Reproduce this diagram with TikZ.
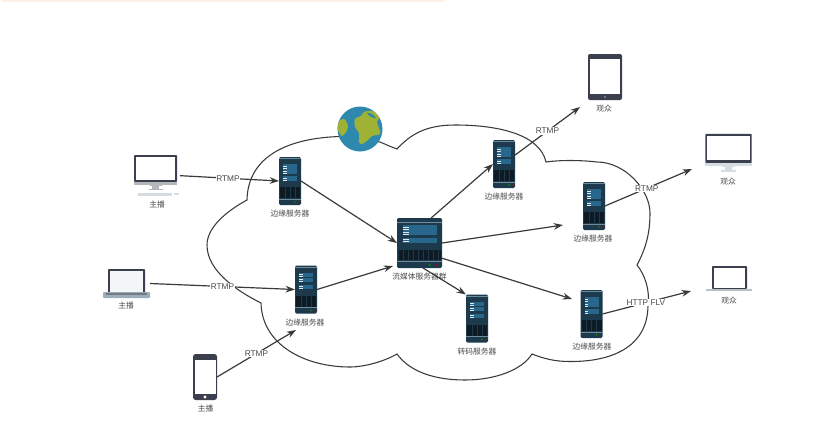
\documentclass[tikz,border=0pt]{standalone}
\usepackage{fontspec}
\setmainfont{Liberation Sans}
\newfontfamily\cjkfont{Noto Sans CJK SC}
\usetikzlibrary{arrows.meta}
\definecolor{cnline}{HTML}{3A3A3A}
\definecolor{cntext}{HTML}{4A4A4A}
\definecolor{cnrack}{HTML}{1C3A4C}
\definecolor{cnbar}{HTML}{2B6E96}
\definecolor{cngrille}{HTML}{0E1A24}
\definecolor{cnstrip}{HTML}{6E8C9C}
\definecolor{cnframe}{HTML}{3B3F4E}
\definecolor{cnpale}{HTML}{D5DCE2}
\definecolor{cnsea}{HTML}{2F88AD}
\definecolor{cnland}{HTML}{9FB236}
\definecolor{cnband}{HTML}{FDF0E6}
\tikzset{
  rackbox/.style={fill=cnrack, rounded corners=1pt, inner sep=0pt, outer sep=0pt},
  iconbox/.style={inner sep=0pt, outer sep=0pt},
  caplabel/.style={text=cntext, font=\cjkfont\fontsize{5.8pt}{7pt}\selectfont, inner sep=0pt},
  linklabel/.style={fill=white, text=cntext, font=\fontsize{6.2pt}{7pt}\selectfont, inner sep=0.6pt},
  linkarrow/.style={draw=cnline, line width=0.9pt, -{Stealth[length=7pt, width=5pt]}},
  cloudline/.style={draw=cnline, line width=0.8pt},
  server/.pic={
    \fill[cnstrip] (-11,-23) rectangle (11,-22.4);
    \fill[cnbar!85!cnrack] (-7,-17) rectangle (7,-12.5);
    \fill[cnbar!85!cnrack] (-7,-12) rectangle (7,-7.5);
    \fill[cnbar!85!cnrack] (-7,-5) rectangle (7,-0.5);
    \fill[white!85!cnbar] (-7,-15.5) rectangle (-3.5,-15);
    \fill[white!85!cnbar] (-7,-13.2) rectangle (-3.5,-12.7);
    \fill[white!85!cnbar] (-7,-10.5) rectangle (-3.5,-10);
    \fill[white!85!cnbar] (-7,-8.2) rectangle (-3.5,-7.7);
    \fill[white!85!cnbar] (-7,-3.5) rectangle (-3.5,-3);
    \fill[white!85!cnbar] (-7,-1.5) rectangle (-3.5,-1);
    \fill[cngrille] (-10,6) rectangle (10,17);
    \foreach \gx in {-5,0,5} \draw[cnrack, line width=0.4pt] (\gx,6) -- (\gx,17);
    \fill[cnstrip] (-11,17.8) rectangle (11,18.6);
    \fill[green!60!black] (5,20.7) circle (0.8);
    \fill[red!65!black] (8,20.7) circle (0.8);
  },
  bigserver/.pic={
    \fill[cnstrip] (-22.5,-21) rectangle (22.5,-20.4);
    \fill[cnbar!85!cnrack] (-17,-18) rectangle (17,-13.5);
    \fill[cnbar!85!cnrack] (-17,-13) rectangle (17,-8.5);
    \fill[cnbar!85!cnrack] (-17,-5.5) rectangle (17,-0.5);
    \fill[white!85!cnbar] (-17,-16.5) rectangle (-11,-16);
    \fill[white!85!cnbar] (-17,-14.2) rectangle (-11,-13.7);
    \fill[white!85!cnbar] (-17,-11.5) rectangle (-11,-11);
    \fill[white!85!cnbar] (-17,-9.2) rectangle (-11,-8.7);
    \fill[white!85!cnbar] (-17,-4) rectangle (-11,-3.5);
    \fill[white!85!cnbar] (-17,-2) rectangle (-11,-1.5);
    \fill[cngrille] (-21,7) rectangle (21,17);
    \foreach \gx in {-16,-11,-6,-1,4,9,14,19} \draw[cnrack, line width=0.4pt] (\gx,7) -- (\gx,17);
    \fill[cnstrip] (-22.5,18.2) rectangle (22.5,19);
    \fill[green!60!black] (10.5,22) circle (1);
    \fill[red!65!black] (17,22) circle (1);
  },
  monitor/.pic={
    \fill[cnframe, rounded corners=0.6pt] (-21.5,-13.5) rectangle (21.5,13.5);
    \fill[white] (-19.5,-11.5) rectangle (19.5,11);
    \fill[#1] (-21.5,13) rectangle (21.5,16);
    \fill[#1] (-6,16) rectangle (6,17);
    \fill[#1] (-3.5,17) rectangle (3.5,20);
    \fill[#1] (-7,20) rectangle (7,21.5);
  },
}
\begin{document}
\begin{tikzpicture}[x=0.75pt, y=-0.75pt]
  \useasboundingbox (0,0) rectangle (818,433);
  \fill[cnband] (2,0) rectangle (444,2);

  \draw[cloudline] (340,136.5) .. controls (290,138) and (248,155) .. (247,200)
    .. controls (225,212) and (207,228) .. (207,245)
    .. controls (207,270) and (235,290) .. (261,303)
    .. controls (262,345) and (305,367) .. (350,367)
    .. controls (365,367) and (385,361) .. (397,354)
    .. controls (410,372) and (435,380) .. (465,380)
    .. controls (495,380) and (522,370) .. (532,354)
    .. controls (550,361) and (560,361.5) .. (573,361.5)
    .. controls (615,361) and (648,345) .. (648,305)
    .. controls (650,290) and (645,275) .. (637,265)
    .. controls (645,250) and (650,235) .. (650,213)
    .. controls (650,190) and (625,162) .. (597,162)
    .. controls (580,160) and (560,160) .. (546,162)
    .. controls (540,135) and (500,125) .. (455,125)
    .. controls (425,125) and (410,135) .. (397,149)
    .. controls (391,147) and (385,144) .. (380,142) -- cycle;

  \node[circle, fill=cnsea, minimum size=33.75pt, inner sep=0pt] (globe) at (360,129) {};
  \begin{scope}
    \clip (360,129) circle (22.5);
    \fill[cnland] plot[smooth cycle] coordinates {(355,119) (361,116) (364,112) (372,111) (380,116) (377,122) (379,128) (380,134) (372,136) (368,140) (362,144) (359,142) (359,133) (355,127)};
    \fill[cnsea] plot[smooth cycle] coordinates {(367,113) (372,114) (376,118) (371,117)};
    \fill[cnland] plot[smooth cycle] coordinates {(337,123) (344,119) (348,126) (346,132) (342,136) (338,130)};
  \end{scope}

  \node[iconbox, minimum width=32.25pt, minimum height=30.75pt] (anchordesk) at (155.5,175.5) {};
  \pic at (155.5,168.5) {monitor=cnpale!60!gray};
  \fill[cnpale] (138,192.5) rectangle (172,195.5);
  \fill[cnpale] (174,193) rectangle (179,194.5);
  \node[caplabel] (anchordeskcap) at (157,205) {主播};

  \node[iconbox, minimum width=35.25pt, minimum height=21.75pt] (anchorlap) at (126.5,283.5) {};
  \fill[cnframe, rounded corners=0.6pt] (108,269) rectangle (145,293);
  \fill[white!94!cnbar] (110,271) rectangle (143,292);
  \fill[cnstrip!70!white, rounded corners=0.6pt] (103,292) rectangle (150,298);
  \fill[cnframe!70!white] (106,292.5) rectangle (147,294.5);
  \node[caplabel] (anchorlapcap) at (126,306) {主播};

  \node[iconbox, fill=cnframe, rounded corners=2pt, minimum width=18pt, minimum height=34.5pt] (anchorphone) at (205,377) {};
  \fill[white] (195,360) rectangle (216,394);
  \fill[white] (205,397) circle (1.6);
  \node[caplabel] (anchorphonecap) at (205.5,409) {主播};

  \node[iconbox, fill=cnframe, rounded corners=1.5pt, minimum width=25.5pt, minimum height=34.5pt] (viewertab) at (605,77) {};
  \fill[white] (590,59) rectangle (620,94);
  \fill[cnframe!70!white] (605,97) circle (1.4);
  \node[caplabel] (viewertabcap) at (604,109) {观众};

  \node[iconbox, minimum width=35.25pt, minimum height=30pt] (viewerdesk) at (728.5,154) {};
  \pic[scale=1.08] at (728.5,148.5) {monitor=cnpale};
  \node[caplabel] (viewerdeskcap) at (728,182) {观众};

  \node[iconbox, minimum width=34.5pt, minimum height=18.75pt] (viewerlap) at (729,278.5) {};
  \fill[cnframe, rounded corners=0.6pt] (712,266) rectangle (747,289);
  \fill[white] (714,268) rectangle (745,288);
  \fill[cnpale!70!gray] (706,289) rectangle (752,291);
  \node[caplabel] (viewerlapcap) at (729,301) {观众};

  \node[rackbox, minimum width=33.75pt, minimum height=37.5pt] (streamsrv) at (419.5,243) {};
  \pic at (419.5,243) {bigserver};
  \node[caplabel] (streamsrvcap) at (419.5,277) {流媒体服务器群};

  \node[rackbox, minimum width=16.5pt, minimum height=36pt] (edgea) at (290,181) {};
  \pic at (290,181) {server};
  \node[caplabel] (edgeacap) at (290,214) {边缘服务器};

  \node[rackbox, minimum width=16.5pt, minimum height=36pt] (edgeb) at (306,289.5) {};
  \pic at (306,289.5) {server};
  \node[caplabel] (edgebcap) at (305,323) {边缘服务器};

  \node[rackbox, minimum width=16.5pt, minimum height=36pt] (edgec) at (504,164) {};
  \pic at (504,164) {server};
  \node[caplabel] (edgeccap) at (504,197) {边缘服务器};

  \node[rackbox, minimum width=16.5pt, minimum height=36pt] (edged) at (594,206) {};
  \pic at (594,206) {server};
  \node[caplabel] (edgedcap) at (593,239) {边缘服务器};

  \node[rackbox, minimum width=16.5pt, minimum height=36pt] (edgee) at (591.5,314) {};
  \pic at (591.5,314) {server};
  \node[caplabel] (edgeecap) at (592,347) {边缘服务器};

  \node[rackbox, minimum width=16.5pt, minimum height=36pt] (transsrv) at (477,318.5) {};
  \pic at (477,318.5) {server};
  \node[caplabel] (transsrvcap) at (477,352) {转码服务器};

  \coordinate (edgebin) at (296,330);
  \coordinate (streamin) at (393,266);
  \coordinate (edgedin) at (563,225);
  \coordinate (edgeein) at (572,299);
  \coordinate (viewertabin) at (580,107);
  \coordinate (viewerdeskin) at (692,169);
  \coordinate (viewerlapin) at (691,291);

  \draw[linkarrow, shorten <=2.2pt] (anchordesk.east) -- node[linklabel, pos=0.5] (rtmpa) {RTMP} (edgea.west);
  \draw[linkarrow] (anchorlap.east) -- node[linklabel, pos=0.5] (rtmpb) {RTMP} (edgeb.west);
  \draw[linkarrow] (anchorphone.east) -- node[linklabel, pos=0.5] (rtmpc) {RTMP} (edgebin);
  \draw[linkarrow] (edgea.east) -- (streamsrv.west);
  \draw[linkarrow] (edgeb.east) -- (streamin);
  \draw[linkarrow] (streamsrv.65) -- (edgec.west);
  \draw[linkarrow] (streamsrv.east) -- (edgedin);
  \draw[linkarrow] (streamsrv.-34) -- (edgeein);
  \draw[linkarrow] (streamsrv.-82) -- (transsrv.north west);
  \draw[linkarrow] (edgec.39) -- node[linklabel, pos=0.5] (rtmpd) {RTMP} (viewertabin);
  \draw[linkarrow] (edged.east) -- node[linklabel, pos=0.48] (rtmpe) {RTMP} (viewerdeskin);
  \draw[linkarrow] (edgee.east) -- node[linklabel, pos=0.49] (flvlink) {HTTP FLV} (viewerlapin);
\end{tikzpicture}
\end{document}
